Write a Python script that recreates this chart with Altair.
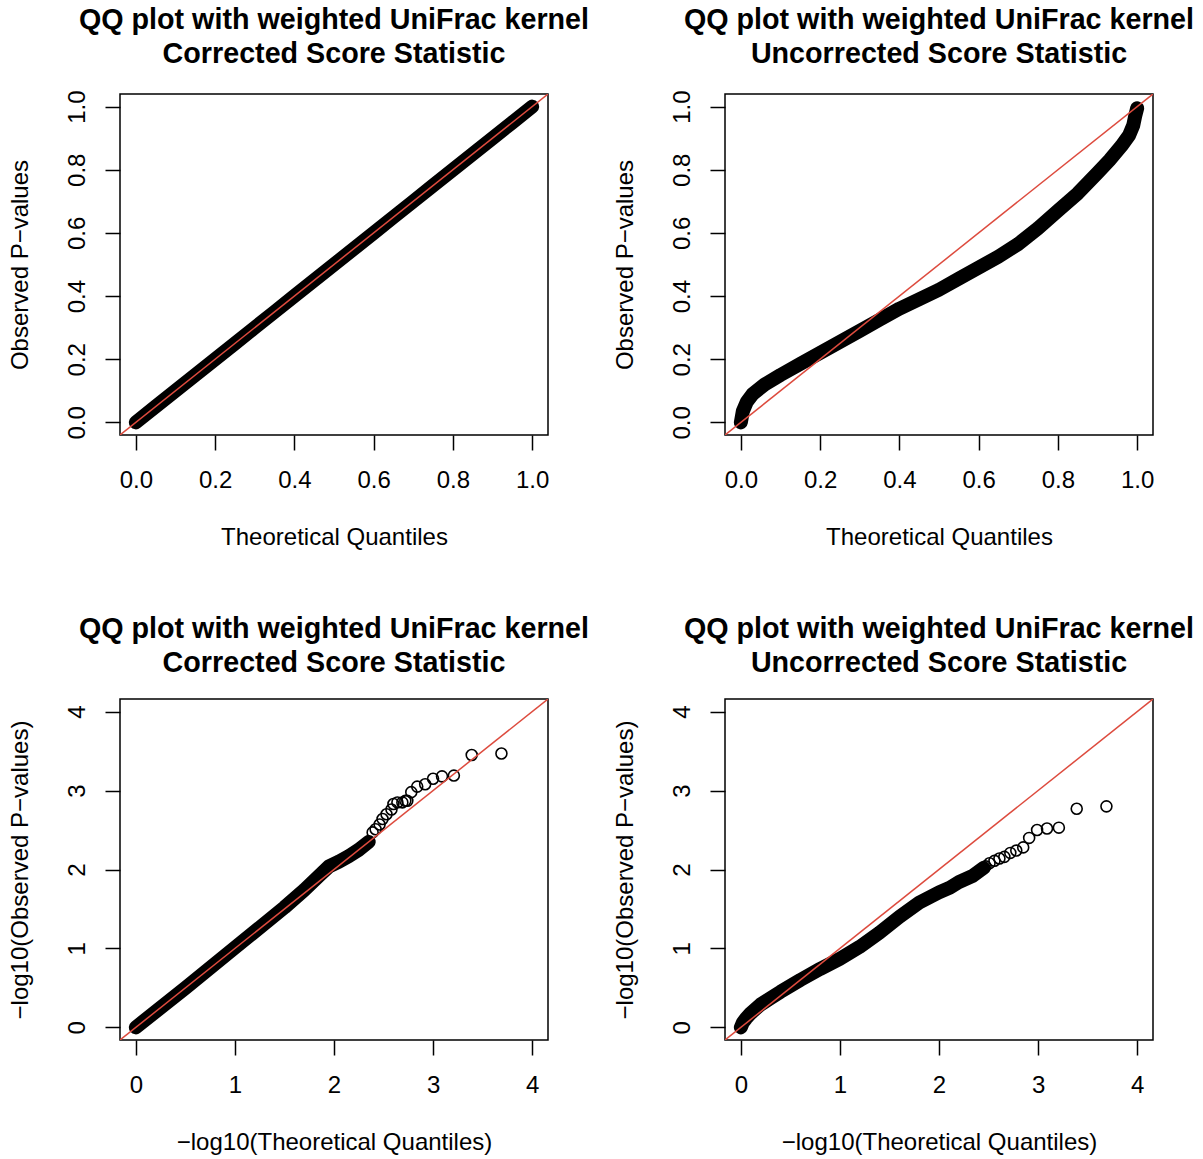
import altair as alt
import pandas as pd

FONT = "Liberation Sans"
RED = "#dd4b3e"
MAIN = "QQ plot with weighted UniFrac kernel"

# ---- top-left: corrected, uniform scale (dense band) ----
tl_x = [0.0, 0.05, 0.1, 0.15, 0.2, 0.25, 0.3, 0.35, 0.4, 0.45, 0.5, 0.55, 0.6, 0.65, 0.7, 0.75, 0.8, 0.85, 0.9, 0.95, 1.0]
tl_y = [0.0, 0.05, 0.1, 0.15, 0.2, 0.25, 0.3, 0.35, 0.4, 0.45, 0.5, 0.55, 0.6, 0.65, 0.7, 0.75, 0.8, 0.85, 0.9, 0.95, 1.0]

# ---- top-right: uncorrected, uniform scale (dense band) ----
tr_x = [0.0, 0.005, 0.015, 0.03, 0.06, 0.1, 0.15, 0.2, 0.25, 0.3, 0.35, 0.4, 0.45, 0.5, 0.55, 0.6, 0.65,
        0.7, 0.75, 0.8, 0.85, 0.9, 0.93, 0.96, 0.98, 0.99, 0.995, 1.0]
tr_y = [0.0, 0.035, 0.065, 0.09, 0.12, 0.15, 0.185, 0.22, 0.255, 0.29, 0.325, 0.36, 0.39, 0.42, 0.455, 0.49, 0.525,
        0.565, 0.615, 0.67, 0.725, 0.79, 0.83, 0.875, 0.91, 0.94, 0.97, 0.995]

# ---- bottom-left: corrected, -log10 scale ----
bl_x = [0.0, 0.5, 1.0, 1.5, 1.7, 1.85, 1.95, 2.05, 2.15, 2.25, 2.35]
bl_y = [0.0, 0.5, 1.01, 1.52, 1.74, 1.92, 2.04, 2.1, 2.17, 2.25, 2.35]
bl_tail_x = [2.39, 2.42, 2.46, 2.49, 2.53, 2.58, 2.60, 2.64, 2.69, 2.72, 2.74, 2.78, 2.84, 2.92, 3.0, 3.09, 3.21, 3.39, 3.69]
bl_tail_y = [2.47, 2.51, 2.57, 2.64, 2.70, 2.76, 2.83, 2.85, 2.85, 2.87, 2.87, 2.98, 3.05, 3.08, 3.15, 3.18, 3.19, 3.45, 3.47]

# ---- bottom-right: uncorrected, -log10 scale ----
br_x = [0.0, 0.02, 0.05, 0.1, 0.2, 0.3, 0.4, 0.6, 0.8, 1.0, 1.2, 1.4, 1.6, 1.8, 2.0, 2.11, 2.2, 2.34, 2.45]
br_y = [0.0, 0.06, 0.11, 0.18, 0.29, 0.37, 0.45, 0.6, 0.74, 0.87, 1.02, 1.2, 1.4, 1.58, 1.71, 1.77, 1.84, 1.92, 2.02]
br_tail_x = [2.47, 2.51, 2.56, 2.61, 2.66, 2.72, 2.78, 2.85, 2.91, 2.99, 3.09, 3.21, 3.39, 3.69]
br_tail_y = [2.04, 2.08, 2.11, 2.14, 2.16, 2.21, 2.24, 2.28, 2.40, 2.50, 2.52, 2.53, 2.77, 2.80]

# reference line y = x (abline), clipped to the plot box
ref_v = [-1.0, 6.0]

uni_dom = [-0.04, 1.04]
uni_ticks = [0.0, 0.2, 0.4, 0.6, 0.8, 1.0]
log_dom = [-0.16, 4.16]
log_ticks = [0, 1, 2, 3, 4]

W, H = 428, 341


def panel(bx, by, tx, ty, dom, ticks, fmt, sub, xtitle, ytitle):
    band = pd.DataFrame({"x": bx, "y": by, "i": list(range(len(bx)))})
    ref = pd.DataFrame({"x": ref_v, "y": ref_v})
    xenc = alt.X("x:Q", scale=alt.Scale(domain=dom, nice=False, zero=False),
                 axis=alt.Axis(values=ticks, format=fmt, title=xtitle))
    yenc = alt.Y("y:Q", scale=alt.Scale(domain=dom, nice=False, zero=False),
                 axis=alt.Axis(values=ticks, format=fmt, title=ytitle, labelAngle=270,
                               labelAlign="center", labelBaseline="bottom"))
    layers = [
        alt.Chart(band).mark_line(color="black", strokeWidth=14, strokeCap="round",
                                  strokeJoin="round").encode(x=xenc, y=yenc, order="i:Q")
    ]
    if tx:
        tail = pd.DataFrame({"x": tx, "y": ty})
        layers.append(alt.Chart(tail).mark_point(shape="circle", filled=False, size=120,
                                                 strokeWidth=1.6, color="black", opacity=1)
                      .encode(x=xenc, y=yenc))
    layers.append(alt.Chart(ref).mark_line(color=RED, strokeWidth=1.5, clip=True)
                  .encode(x=xenc, y=yenc))
    return alt.layer(*layers).properties(
        width=W, height=H,
        title=alt.TitleParams(text=[MAIN, sub], fontSize=28.7, font=FONT, fontWeight="bold",
                              anchor="middle", frame="group", offset=21, lineHeight=34,
                              color="black"))


p1 = panel(tl_x, tl_y, [], [], uni_dom, uni_ticks, ".1f", "Corrected Score Statistic",
           "Theoretical Quantiles", "Observed P\u2212values")
p2 = panel(tr_x, tr_y, [], [], uni_dom, uni_ticks, ".1f", "Uncorrected Score Statistic",
           "Theoretical Quantiles", "Observed P\u2212values")
p3 = panel(bl_x, bl_y, bl_tail_x, bl_tail_y, log_dom, log_ticks, "d", "Corrected Score Statistic",
           "\u2212log10(Theoretical Quantiles)", "\u2212log10(Observed P\u2212values)")
p4 = panel(br_x, br_y, br_tail_x, br_tail_y, log_dom, log_ticks, "d", "Uncorrected Score Statistic",
           "\u2212log10(Theoretical Quantiles)", "\u2212log10(Observed P\u2212values)")

chart = alt.concat(p1, p2, p3, p4, columns=2, spacing={"row": 264, "column": 177},
                   bounds="flush").properties(
    padding={"left": 7, "top": 5, "right": 5, "bottom": 5},
    background="white",
).configure_view(
    stroke="black", strokeWidth=1.5
).configure_axis(
    domain=False, grid=False, ticks=True, tickSize=15, tickWidth=1.5, tickColor="black",
    labelFont=FONT, labelFontSize=24, labelColor="black", labelPadding=18,
    titleFont=FONT, titleFontSize=24, titleFontWeight="normal", titleColor="black",
    labelFlush=False, labelOverlap=False
).configure_axisX(
    titlePadding=33
).configure_axisY(
    labelPadding=16, titlePadding=33
)

chart.save("out.html", embed_options={"renderer": "svg", "actions": False})
